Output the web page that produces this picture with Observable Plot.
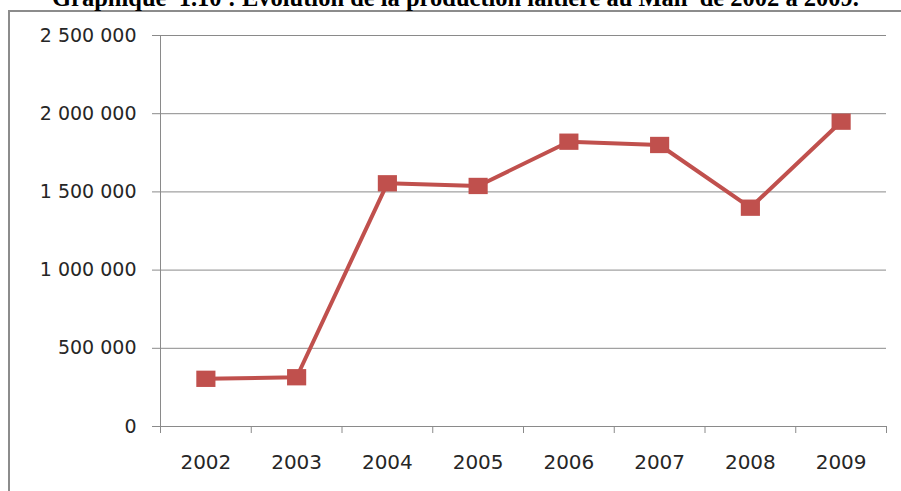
<!DOCTYPE html>
<html>
<head>
<meta charset="utf-8">
<script src="https://cdn.jsdelivr.net/npm/d3@7"></script>
<script src="https://cdn.jsdelivr.net/npm/@observablehq/plot@0.6"></script>
<style>
  html, body { margin: 0; padding: 0; background: #fff; }
  #wrap { position: relative; width: 901px; height: 491px; overflow: hidden; background: #fff; }
  #frame { position: absolute; left: 8px; top: 10px; width: 1000px; height: 1000px;
           border-left: 2px solid #8c8c8c; border-top: 2px solid #8c8c8c; box-sizing: border-box; }
  #title { position: absolute; left: 0; width: 911px; top: -14px; text-align: center;
           font-family: "Liberation Serif", "Times New Roman", serif; font-weight: bold;
           font-size: 24.5px; line-height: 24.5px; color: #000; white-space: pre; }
  #chart { position: absolute; left: 0; top: 0; }
</style>
</head>
<body>
<div id="wrap">
  <div id="frame"></div>
  <div id="title">Graphique  1.10 : Evolution de la production laitière au Mali  de 2002 à 2009.</div>
  <div id="chart"></div>
</div>
<script>
const years = [2002, 2003, 2004, 2005, 2006, 2007, 2008, 2009];
const production = [305000, 315000, 1555000, 1538000, 1821000, 1800000, 1399000, 1949000];
const yTicks = [0, 500000, 1000000, 1500000, 2000000, 2500000];

const data = years.map((y, i) => ({year: y, value: production[i]}));
const boundaries = [years[0] - 0.5, ...years.map(y => y + 0.5)];

const locale = d3.formatLocale({decimal: ",", thousands: "\u00a0", grouping: [3], currency: ["", " €"]});
const fmt = locale.format(",d");

const color = "#C0504D";
const gridColor = "#8a8a8a";

const rectSymbol = {
  draw(context, size) {
    const s = Math.sqrt(size);
    const w = s * 1.08, h = s * 0.92;
    context.rect(-w / 2, -h / 2, w, h);
  }
};

const chart = Plot.plot({
  width: 901,
  height: 491,
  marginLeft: 160,
  marginRight: 15,
  marginTop: 35,
  marginBottom: 65,
  style: {fontFamily: "DejaVu Sans", background: "transparent", overflow: "visible"},
  x: {type: "linear", domain: [boundaries[0], boundaries[boundaries.length - 1]]},
  y: {domain: [0, 2500000]},
  marks: [
    Plot.gridY(yTicks, {stroke: gridColor, strokeOpacity: 1, strokeWidth: 1}),
    Plot.ruleX([boundaries[0]], {stroke: gridColor, strokeWidth: 1}),
    Plot.ruleY([0], {stroke: gridColor, strokeWidth: 1}),
    Plot.axisY({ticks: yTicks, tickFormat: fmt, tickSize: 8, tickPadding: 16,
                stroke: gridColor, color: "#262626", fontSize: 19, label: null}),
    Plot.axisX({ticks: boundaries, tickFormat: () => "", tickSize: 7,
                stroke: gridColor, label: null}),
    Plot.axisX({ticks: years, tickFormat: d => String(d), tickSize: 0, tickPadding: 28,
                color: "#262626", fontSize: 20, label: null}),
    Plot.line(data, {x: "year", y: "value", stroke: color, strokeWidth: 4}),
    Plot.dot(data, {x: "year", y: "value", symbol: rectSymbol, r: 10, fill: color, stroke: "none"})
  ]
});
document.getElementById("chart").appendChild(chart);
</script>
</body>
</html>
